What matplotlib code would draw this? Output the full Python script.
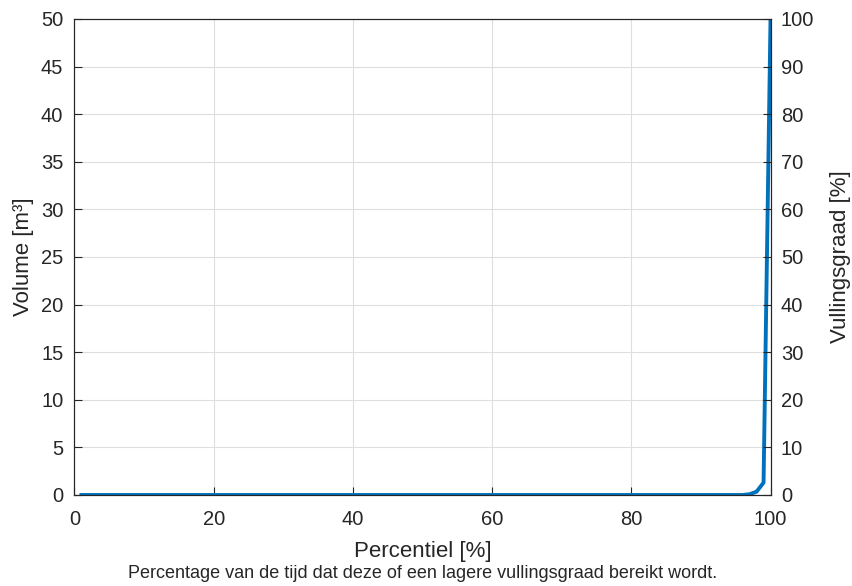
import matplotlib.pyplot as plt
import numpy as np

plt.rcParams['font.family'] = ['Liberation Sans', 'DejaVu Sans']

# percentile axis (1..100) and stored volume per percentile
percentiel = np.arange(1, 101)
volume = np.array([0.0] * 96 + [0.08, 0.35, 1.3, 50.0])

x_ticks = [0, 20, 40, 60, 80, 100]
y_left_ticks = list(range(0, 51, 5))
y_right_ticks = list(range(0, 101, 10))

axis_col = '#262626'
line_col = '#0072BD'

fig = plt.figure(figsize=(8.53, 5.86), dpi=100)
ax = fig.add_axes([0.0873, 0.1553, 0.816, 0.8123])

ax.plot(percentiel, volume, color=line_col, lw=2.8, solid_joinstyle='round')

ax.set_xlim(0, 100)
ax.set_ylim(0, 50)
ax.set_xticks(x_ticks)
ax.set_yticks(y_left_ticks)
ax.grid(True, color='#dedede', lw=0.8)
ax.set_axisbelow(True)

ax2 = ax.twinx()
ax2.set_ylim(0, 100)
ax2.set_yticks(y_right_ticks)

for a in (ax, ax2):
    for s in a.spines.values():
        s.set_color(axis_col)
        s.set_linewidth(0.8)
    a.tick_params(direction='in', length=6, width=0.8, color=axis_col,
                  labelcolor=axis_col, labelsize=14.5)
ax.tick_params(axis='x', pad=11)
ax.tick_params(axis='y', pad=8)
ax2.tick_params(axis='y', pad=7.5)

ax.set_ylabel('Volume [m³]', fontsize=16, color=axis_col)
ax.yaxis.set_label_coords(-0.0575, 0.5)
ax2.set_ylabel('Vullingsgraad [%]', fontsize=16, color=axis_col)
ax2.yaxis.set_label_coords(1.086, 0.5)
ax.set_xlabel('Percentiel [%]', fontsize=16, color=axis_col)
ax.xaxis.set_label_coords(0.5, -0.097)

fig.text(0.4953, 0.0205,
         'Percentage van de tijd dat deze of een lagere vullingsgraad bereikt wordt.',
         fontsize=13, color=axis_col, ha='center', va='center')

fig.savefig('out.png', dpi=100)
